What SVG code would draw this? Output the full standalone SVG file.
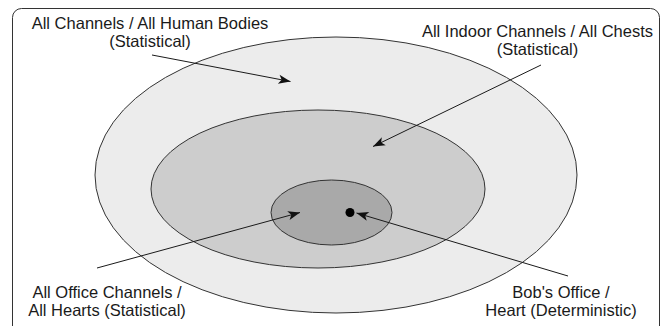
<svg xmlns="http://www.w3.org/2000/svg" width="662" height="326" viewBox="0 0 662 326">
<style>
.lbl{font-family:"Liberation Sans",Arial,sans-serif;font-size:16.5px;fill:#1a1a1a;text-anchor:middle}
.ring{stroke:#333;stroke-width:1}
.conn{stroke:#1a1a1a;stroke-width:1;fill:none;marker-end:url(#arr)}
</style>
<defs>
<marker id="arr" viewBox="-13 -6 14 12" refX="0" refY="0" markerWidth="14" markerHeight="12" markerUnits="userSpaceOnUse" orient="auto">
<path d="M0,0 L-12,-4.5 L-9,0 L-12,4.5 Z" fill="#111"/>
</marker>
</defs>
<rect x="12.5" y="8.5" width="647" height="340" rx="9" ry="9" fill="#fff" stroke="#333" stroke-width="1"/>
<g id="all-channels">
<ellipse class="ring" cx="336" cy="175" rx="241" ry="138" fill="#ececec"/>
</g>
<g id="indoor-channels">
<ellipse class="ring" cx="318" cy="189" rx="167" ry="79" fill="#cdcdcd"/>
</g>
<g id="office-channels">
<ellipse class="ring" cx="331.5" cy="212.5" rx="60.5" ry="32.5" fill="#a9a9a9"/>
</g>
<g id="bobs-office">
<circle cx="350" cy="212.5" r="4.5" fill="#000"/>
</g>
<g id="labels">
<text class="lbl" x="150" y="29">All Channels / All Human Bodies</text>
<text class="lbl" x="150" y="47">(Statistical)</text>
<text class="lbl" x="537.5" y="37">All Indoor Channels / All Chests</text>
<text class="lbl" x="537.5" y="55">(Statistical)</text>
<text class="lbl" x="107" y="298">All Office Channels /</text>
<text class="lbl" x="107" y="316">All Hearts (Statistical)</text>
<text class="lbl" x="561" y="298">Bob's Office /</text>
<text class="lbl" x="561" y="316">Heart (Deterministic)</text>
</g>
<g id="connectors">
<line class="conn" x1="152" y1="55" x2="290.5" y2="81.5"/>
<line class="conn" x1="541" y1="65" x2="373" y2="146.5"/>
<line class="conn" x1="97" y1="268" x2="300" y2="212.5"/>
<line class="conn" x1="568" y1="276" x2="356.5" y2="213"/>
</g>
</svg>
